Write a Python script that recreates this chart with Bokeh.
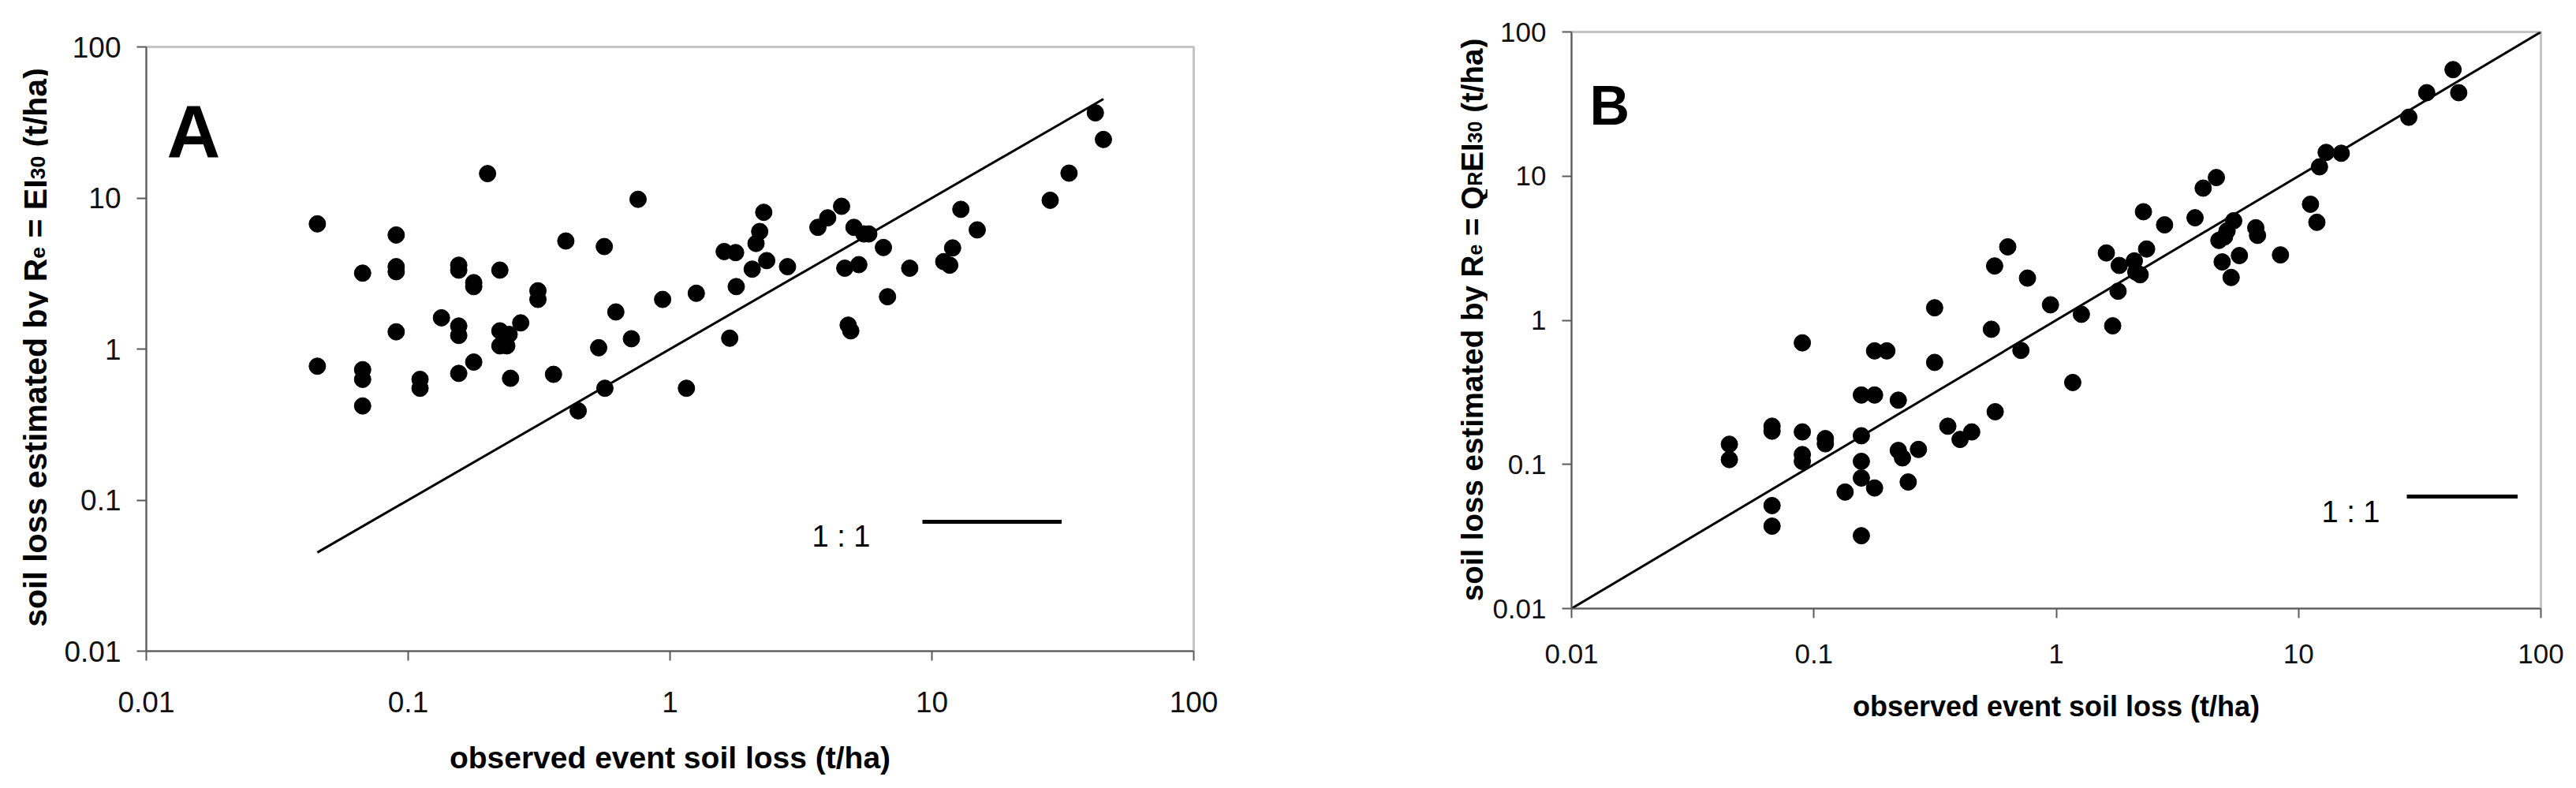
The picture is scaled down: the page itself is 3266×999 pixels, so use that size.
import math
from jinja2 import Template
from bokeh.plotting import figure
from bokeh.models import (FixedTicker, CustomJSTickFormatter, Label, Legend, LegendItem,
                          Range1d)
from bokeh.core.properties import value
from bokeh.embed import file_html
from bokeh.resources import INLINE

# ---------------- data ----------------
axis_ticks = [0.01, 0.1, 1, 10, 100]
axis_min, axis_max = 0.01, 100

# Panel A: observed vs estimated by Re = EI30
obs_a = [0.045, 0.045, 0.067, 0.067, 0.067, 0.067, 0.090, 0.090, 0.090, 0.090,
         0.111, 0.111, 0.134, 0.156, 0.156, 0.156, 0.156, 0.156, 0.178, 0.178,
         0.178, 0.201, 0.224, 0.224, 0.224, 0.238, 0.243, 0.246, 0.269, 0.313,
         0.313, 0.359, 0.40, 0.446, 0.534, 0.561, 0.564, 0.621, 0.712, 0.755,
         0.937, 1.155, 1.26, 1.61, 1.69, 1.78, 1.79, 2.06, 2.13, 2.20,
         2.28, 2.34, 2.81, 3.67, 4.0, 4.52, 4.65, 4.79, 4.90, 5.04,
         5.26, 5.5, 5.74, 6.53, 6.77, 8.23, 11.1, 11.7, 12.0, 12.9,
         14.9, 28.3, 33.4, 42.1, 45.2]
est_a = [6.74, 0.77, 3.18, 0.73, 0.63, 0.42, 5.69, 3.51, 3.25, 1.30,
         0.63, 0.55, 1.61, 3.59, 3.33, 1.42, 1.23, 0.69, 2.75, 2.59,
         0.82, 14.5, 3.33, 1.32, 1.05, 1.05, 1.25, 0.64, 1.49, 2.43,
         2.13, 0.68, 5.19, 0.39, 1.02, 4.77, 0.55, 1.76, 1.17, 9.8,
         2.13, 0.55, 2.34, 4.42, 1.18, 4.35, 2.59, 3.38, 5.0, 6.0,
         8.04, 3.85, 3.51, 6.39, 7.39, 8.81, 3.43, 1.44, 1.32, 6.39,
         3.62, 5.78, 5.78, 4.70, 2.22, 3.43, 3.79, 3.59, 4.67, 8.41,
         6.15, 9.66, 14.6, 36.6, 24.4]

# Panel B: observed vs estimated by Re = QR EI30
obs_b = [0.0448, 0.0448, 0.0672, 0.0672, 0.0672, 0.0672, 0.0896, 0.0896, 0.0896, 0.0896,
         0.1115, 0.1115, 0.1345, 0.157, 0.157, 0.157, 0.157, 0.157, 0.178, 0.178,
         0.178, 0.20, 0.223, 0.223, 0.232, 0.245, 0.270, 0.315, 0.315, 0.357,
         0.401, 0.448, 0.54, 0.557, 0.56, 0.631, 0.715, 0.761, 0.947, 1.17,
         1.27, 1.61, 1.71, 1.80, 1.82, 2.10, 2.13, 2.22, 2.29, 2.36,
         2.80, 3.74, 4.04, 4.58, 4.69, 4.84, 4.95, 5.07, 5.27, 5.40,
         5.70, 6.66, 6.77, 8.42, 11.2, 11.9, 12.2, 13.0, 15.0, 28.5,
         33.8, 43.4, 45.8]
est_b = [0.138, 0.108, 0.184, 0.170, 0.0518, 0.0373, 0.697, 0.168, 0.117, 0.105,
         0.151, 0.139, 0.0643, 0.303, 0.158, 0.105, 0.0805, 0.032, 0.613, 0.303,
         0.0686, 0.613, 0.279, 0.125, 0.111, 0.0755, 0.127, 1.22, 0.51, 0.184,
         0.149, 0.168, 0.866, 2.38, 0.232, 3.23, 0.618, 1.96, 1.28, 0.37,
         1.10, 2.93, 0.915, 1.59, 2.40, 2.58, 2.16, 2.07, 5.66, 3.12,
         4.59, 5.14, 8.25, 9.77, 3.58, 2.54, 3.79, 4.17, 1.98, 4.90,
         2.81, 4.38, 3.88, 2.84, 6.38, 4.78, 11.6, 14.6, 14.4, 25.6,
         37.9, 54.8, 37.9]

x_title = "observed event soil loss (t/ha)"
y_title_a = [("soil loss estimated by R", False), ("e", True), (" = EI", False),
             ("30", True), (" (t/ha)", False)]
y_title_b = [("soil loss estimated by R", False), ("e", True), (" = Q", False),
             ("R", True), ("EI", False), ("30", True), (" (t/ha)", False)]
ratio_label = "1 : 1"

# Arial Bold advance widths (per 1000 em) for title layout
BOLD_W = {' ': 278, '(': 333, ')': 333, '/': 278, '=': 584, '0': 556, '3': 556,
          'a': 556, 'b': 611, 'd': 611, 'e': 556, 'h': 611, 'i': 278, 'l': 278,
          'm': 889, 'o': 611, 's': 556, 't': 333, 'y': 556,
          'E': 667, 'I': 278, 'Q': 778, 'R': 722}

FONT = "Liberation Sans"
AXIS_COL = "#5a5a5a"
PAGE_H = 999


def width_of(txt, size):
    return sum(BOLD_W.get(c, 556) for c in txt) / 1000.0 * size


def make_title_fig(width, pieces, fs, baseline_x, center_y):
    """Transparent figure carrying the rotated y-axis title (with subscripts)."""
    t = figure(width=width, height=PAGE_H, x_range=Range1d(0, width),
               y_range=Range1d(0, PAGE_H), output_backend="svg", toolbar_location=None,
               x_axis_location=None, y_axis_location=None,
               min_border_left=0, min_border_right=0, min_border_top=0, min_border_bottom=0)
    t.xgrid.visible = False
    t.ygrid.visible = False
    t.outline_line_color = None
    t.background_fill_alpha = 0
    t.border_fill_alpha = 0
    sub_fs = fs * 0.65
    total = sum(width_of(s, sub_fs if sub else fs) for s, sub in pieces)
    pos = (PAGE_H - center_y) - total / 2.0
    for s, sub in pieces:
        size = sub_fs if sub else fs
        stripped = s.lstrip(" ")
        lead = width_of(s[:len(s) - len(stripped)], size)
        t.add_layout(Label(x=baseline_x + (3 if sub else 0), y=pos + lead, text=stripped,
                           angle=math.pi / 2, text_font=FONT, text_font_style="bold",
                           text_font_size=f"{size:.1f}px", text_color="black",
                           text_align="left", text_baseline="alphabetic"))
        pos += width_of(s, size)
    return t


def make_panel(obs, est, line_x, g):
    p = figure(width=g["w"], height=PAGE_H, x_axis_type="log", y_axis_type="log",
               x_range=(axis_min, axis_max), y_range=(axis_min, axis_max),
               output_backend="svg", toolbar_location=None,
               min_border_left=g["bl"], min_border_right=g["br"],
               min_border_top=g["bt"], min_border_bottom=g["bb"])
    p.styles = {"margin-left": f'{-g["overlap"]}px'}
    p.xgrid.visible = False
    p.ygrid.visible = False
    p.background_fill_color = "white"
    p.border_fill_color = "white"
    p.outline_line_color = "#c4c4c4"
    p.outline_line_width = 3

    for ax in (p.xaxis[0], p.yaxis[0]):
        ax.ticker = FixedTicker(ticks=axis_ticks, minor_ticks=[])
        ax.formatter = CustomJSTickFormatter(code="return tick.toString();")
        ax.axis_line_color = AXIS_COL
        ax.axis_line_width = 2
        ax.major_tick_line_color = AXIS_COL
        ax.major_tick_line_width = 2
        ax.major_tick_out = 12
        ax.major_tick_in = 0
        ax.minor_tick_line_color = None
        ax.major_label_text_font = FONT
        ax.major_label_text_font_size = g["tick_fs"]
        ax.major_label_text_color = "#111111"
    p.xaxis[0].major_label_standoff = g["xstand"]
    p.yaxis[0].major_label_standoff = g["ystand"]

    xa = p.xaxis[0]
    xa.axis_label = x_title
    xa.axis_label_text_font = FONT
    xa.axis_label_text_font_style = "bold"
    xa.axis_label_text_font_size = g["xt_fs"]
    xa.axis_label_text_color = "black"
    xa.axis_label_standoff = g["xt_stand"]

    # 1:1 line
    p.line(line_x, line_x, line_width=3, line_color="black")
    # observations
    p.scatter(obs, est, size=21, marker="circle", fill_color="black", line_color="black")

    # panel letter
    p.add_layout(Label(x=axis_min, y=axis_max, x_offset=g["let_dx"], y_offset=g["let_dy"],
                       text=g["letter"], text_font=FONT, text_font_style="bold",
                       text_font_size=g["let_fs"], text_color="black",
                       text_baseline="alphabetic", text_align="left"))

    # "1 : 1" key: text + sample line (legend proxy: a single-vertex line draws nothing)
    p.add_layout(Label(x=axis_min, y=axis_min, x_offset=g["rl_dx"], y_offset=g["rl_dy"],
                       text=ratio_label, text_font=FONT, text_font_size=g["rl_fs"],
                       text_color="black", text_baseline="alphabetic", text_align="left"))
    proxy = p.line(x=line_x[:1], y=line_x[:1], line_width=5, line_color="black")
    leg = Legend(items=[LegendItem(label=value(" "), renderers=[proxy])],
                 location=g["leg_loc"], glyph_width=g["leg_w"], glyph_height=20,
                 padding=0, margin=0, spacing=0, label_standoff=0, label_width=1,
                 label_height=20, label_text_font_size="2px",
                 border_line_color=None, background_fill_alpha=0)
    p.add_layout(leg)
    return p


# page: [title A 0..185] [panel A 60..1815] [title B 1815..1995] [panel B 1885..3266]
geom_a = dict(w=1755, overlap=125, bl=125, br=302, bt=59, bb=174, tick_fs="37px",
              xstand=39, ystand=20, xt_fs="39px", xt_stand=33,
              letter="A", let_fs="94px", let_dx=26, let_dy=-108,
              rl_fs="38px", rl_dx=844, rl_dy=146, leg_loc=(984, 154), leg_w=177)
geom_b = dict(w=1381, overlap=110, bl=107, br=45, bt=40, bb=228, tick_fs="35px",
              xstand=33, ystand=20, xt_fs="36px", xt_stand=31,
              letter="B", let_fs="70px", let_dx=23, let_dy=-93,
              rl_fs="38px", rl_dx=951, rl_dy=123, leg_loc=(1059, 132), leg_w=141)

line_a = [min(obs_a), max(obs_a)]
line_b = [axis_min, axis_max]

ta = make_title_fig(185, y_title_a, 41, 44, 440)
pa = make_panel(obs_a, est_a, line_a, geom_a)
tb = make_title_fig(180, y_title_b, 38.5, 51, 405)
pb = make_panel(obs_b, est_b, line_b, geom_b)

page = Template("""{% extends base %}
{% block postamble %}
<style>
  html, body { margin: 0; padding: 0; }
  body { display: flex !important; flex-direction: row; align-items: flex-start; }
  body > * { flex-shrink: 0; }
</style>
{% endblock %}
""")

open("out.html", "w").write(file_html([ta, pa, tb, pb], INLINE, template=page))
